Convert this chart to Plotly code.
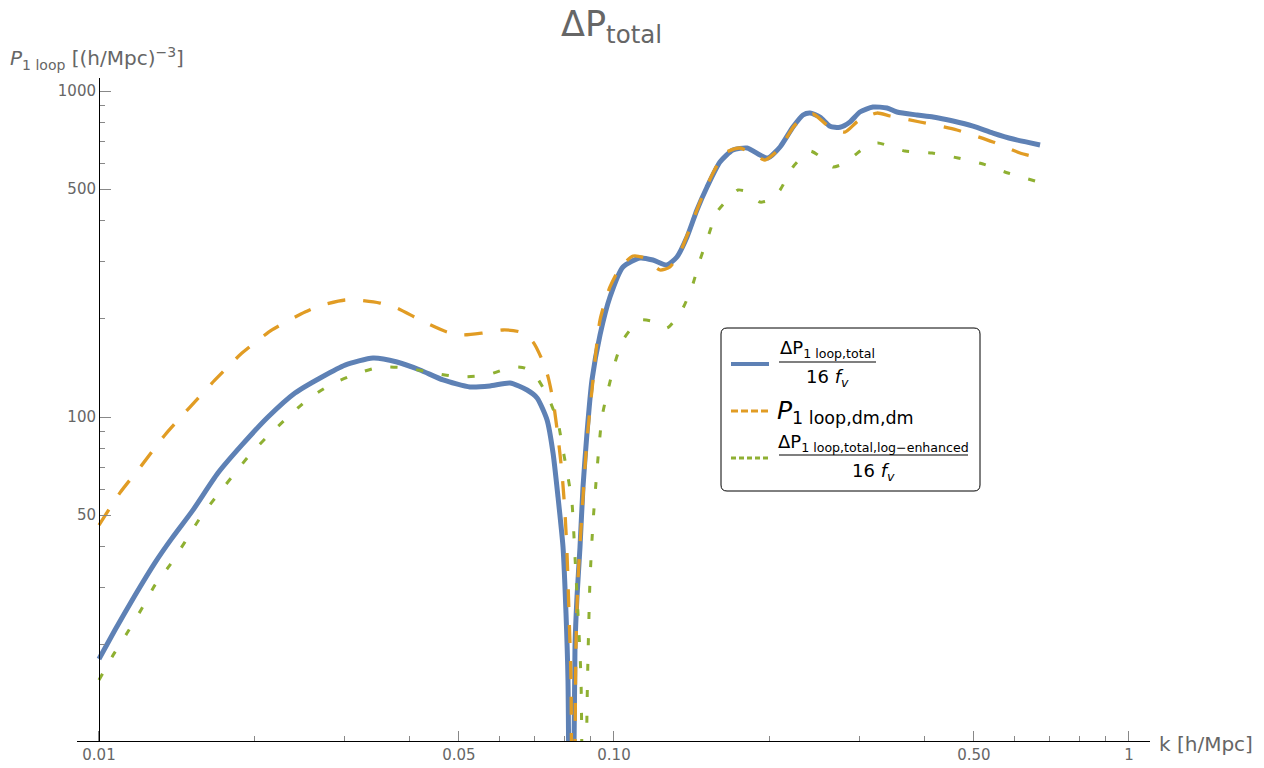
import plotly.graph_objects as go

# ---------------- data ----------------
k_blue = [0.01, 0.01074, 0.01175, 0.01284, 0.01386, 0.01522, 0.01702, 0.01895, 0.02129, 0.02402,
          0.02710, 0.03004, 0.03404, 0.03790, 0.04201, 0.04656, 0.05252, 0.05743, 0.06283, 0.06780,
          0.07090, 0.07414, 0.07614, 0.07786, 0.07962, 0.08069, 0.08141, 0.0825, 0.08400, 0.08475,
          0.08590, 0.08706, 0.08863, 0.09063, 0.09394, 0.09822, 0.1041, 0.1123, 0.1190, 0.1267,
          0.1325, 0.1386, 0.1449, 0.1516, 0.1606, 0.1702, 0.1813, 0.1921, 0.1991, 0.2101,
          0.2226, 0.2328, 0.2402, 0.2512, 0.2627, 0.2747, 0.2872, 0.3003, 0.3184, 0.3389,
          0.3544, 0.3876, 0.4164, 0.4553, 0.4979, 0.5444, 0.5955, 0.6719]
p_blue = [18.1, 22.2, 28.4, 35.7, 42.5, 51.8, 67.3, 82.1, 100, 118.5,
          132.7, 144.3, 151.7, 147.5, 139.4, 129.9, 123.6, 124.5, 127.2, 121.0,
          114.4, 97.9, 77.6, 56.8, 39.9, 25.0, 15.6, 1.0, 19.7, 28.0,
          39.9, 61.0, 89.3, 129.9, 178.5, 233.4, 288.5, 307.4, 303.1, 292.6,
          309.6, 356.6, 431.5, 507.6, 605.6, 659.2, 668.6, 636.4, 623.0, 673.3,
          775.4, 844.0, 856.0, 832.2, 780.0, 774.0, 803.4, 862.1, 893.2, 887.0,
          862.1, 844.0, 832.2, 809.1, 780.8, 743.2, 712.3, 683.0]

k_orange = [0.01, 0.01098, 0.01212, 0.01343, 0.01502, 0.01680, 0.01895, 0.02167, 0.02512, 0.02710,
            0.03004, 0.03170, 0.03512, 0.03790, 0.04201, 0.04738, 0.05091, 0.05567, 0.06089, 0.06569,
            0.06963, 0.07283, 0.07447, 0.07614, 0.07786, 0.07925, 0.08033, 0.08105, 0.08178, 0.08251,
            0.0831, 0.08437, 0.08513, 0.08667, 0.08863, 0.09063, 0.09394, 0.09822, 0.1027, 0.1089,
            0.1149, 0.1228, 0.1284, 0.1344, 0.1405, 0.1469, 0.1550, 0.1643, 0.1757, 0.1878,
            0.1964, 0.2101, 0.2246, 0.2434, 0.2592, 0.2808, 0.2977, 0.3241, 0.3435, 0.3928,
            0.4634, 0.5444, 0.6142, 0.6719]
p_orange = [46.6, 58.5, 71.3, 88.1, 107.3, 129.9, 157.1, 184.9, 209.9, 220.6,
            228.5, 228.5, 223.7, 216.0, 198.4, 182.3, 178.5, 181.0, 184.9, 182.3,
            169.9, 147.5, 132.7, 112.7, 86.9, 67.3, 50.8, 38.3, 25.0, 15.6,
            1.0, 19.7, 31.6, 50.8, 85.0, 121.0, 198.4, 250.5, 286.5, 311.8,
            307.4, 282.5, 288.5, 320.7, 379.9, 456.5, 552.5, 645.3, 668.6, 636.4,
            614.2, 668.6, 786.4, 850.1, 786.4, 748.5, 809.1, 856.0, 838.1, 803.4,
            759.1, 697.6, 645.3, 623.0]

k_green = [0.01, 0.01065, 0.01133, 0.01212, 0.01284, 0.01374, 0.01469, 0.01571, 0.01680, 0.01812,
           0.01947, 0.02119, 0.02317, 0.02534, 0.02809, 0.03113, 0.03512, 0.03963, 0.04452, 0.05023,
           0.05667, 0.06339, 0.06719, 0.07025, 0.07447, 0.07786, 0.07962, 0.08141, 0.08288, 0.08400,
           0.08513, 0.08629, 0.08745, 0.08863, 0.08903, 0.08983, 0.09104, 0.09269, 0.09478, 0.09735,
           0.1004, 0.1041, 0.1123, 0.1201, 0.1267, 0.1355, 0.1417, 0.1469, 0.1522, 0.1585,
           0.1658, 0.1741, 0.1821, 0.1921, 0.2009, 0.2101, 0.2226, 0.2402, 0.2535, 0.2662,
           0.2808, 0.2938, 0.3099, 0.3255, 0.3673, 0.4146, 0.4656, 0.5207, 0.5821, 0.6571]
p_green = [15.6, 18.6, 21.7, 25.9, 30.5, 35.2, 41.4, 49.0, 56.4, 65.5,
           75.4, 86.9, 99.3, 112.7, 125.4, 134.5, 142.3, 141.3, 136.5, 132.7,
           134.5, 142.3, 141.3, 134.5, 115.2, 95.9, 79.2, 65.5, 54.5, 37.2,
           25.0, 15.6, 1.0, 12.6, 18.4, 31.6, 47.3, 68.8, 100, 121.0,
           146.4, 172.3, 198.4, 195.6, 187.5, 212.9, 250.5, 303.1, 356.6, 425.4,
           463.0, 497.0, 490.0, 456.5, 463.0, 497.0, 584.7, 654.6, 623.0, 584.7,
           601.3, 636.4, 678.1, 692.6, 654.6, 645.3, 623.0, 597.2, 560.4, 529.6]

x_tickvals = [0.01, 0.05, 0.1, 0.5, 1]
x_ticktext = ["0.01", "0.05", "0.10", "0.50", "1"]
x_minor = [0.02, 0.03, 0.04, 0.06, 0.07, 0.08, 0.09, 0.2, 0.3, 0.4, 0.6, 0.7, 0.8, 0.9]
y_tickvals = [50, 100, 500, 1000]
y_ticktext = ["50", "100", "500", "1000"]
y_minor = [20, 30, 40, 60, 70, 80, 90, 200, 300, 400, 600, 700, 800, 900]

BLUE, ORANGE, GREEN = "#5E81B5", "#E19C24", "#8FB032"
FONT = "DejaVu Sans"

# ---------------- layout geometry ----------------
W, H = 1264, 768
L, R, T, B = 77, 1150, 78, 741


def px(x):
    return (x - L) / (R - L)


def py(y):
    return (B - y) / (B - T)


fig = go.Figure()
fig.add_trace(go.Scatter(x=k_blue, y=p_blue, mode="lines",
                         line=dict(color=BLUE, width=5, shape="spline", smoothing=0.6)))
fig.add_trace(go.Scatter(x=k_orange, y=p_orange, mode="lines",
                         line=dict(color=ORANGE, width=3.3, dash="18px,18px", shape="spline", smoothing=0.6)))
fig.add_trace(go.Scatter(x=k_green, y=p_green, mode="lines",
                         line=dict(color=GREEN, width=3, dash="7px,19px", shape="spline", smoothing=0.6)))

fig.update_layout(
    width=W, height=H,
    margin=dict(l=L, r=W - R, t=T, b=H - B, pad=0, autoexpand=False),
    plot_bgcolor="white", paper_bgcolor="white",
    showlegend=False,
    font=dict(family=FONT, color="#666666"),
)

fig.update_xaxes(
    type="log", range=[-2.0427, 0.0408], automargin=False,
    showline=True, linecolor="black", linewidth=1,
    ticks="inside", ticklen=10, tickcolor="#888888", tickwidth=1,
    tickvals=x_tickvals, ticktext=x_ticktext,
    tickfont=dict(size=15, color="#666666", family=FONT),
    showgrid=False, zeroline=False,
    minor=dict(tickvals=x_minor, ticks="inside", ticklen=5, tickcolor="#888888", showgrid=False),
)
fig.update_yaxes(
    type="log", range=[1.0061, 3.0399], automargin=False,
    anchor="free", position=px(99), side="left",
    showline=True, linecolor="black", linewidth=1,
    ticks="inside", ticklen=11, tickcolor="#888888", tickwidth=1,
    tickvals=y_tickvals, ticktext=y_ticktext,
    tickfont=dict(size=15, color="#666666", family=FONT),
    showgrid=False, zeroline=False,
    minor=dict(tickvals=y_minor, ticks="inside", ticklen=5, tickcolor="#888888", showgrid=False),
)

# ---------------- titles ----------------
ann = []
ann.append(dict(text="ΔP<sub>total</sub>", x=px(611), y=py(2), xref="paper", yref="paper",
                xanchor="center", yanchor="top", showarrow=False,
                font=dict(size=35, color="#666666", family=FONT)))
ann.append(dict(text="<i>P</i><sub>1 loop</sub> [(h/Mpc)<sup>−3</sup>]", x=px(8), y=py(58),
                xref="paper", yref="paper", xanchor="left", yanchor="middle", showarrow=False,
                font=dict(size=20, color="#666666", family=FONT)))
ann.append(dict(text="k [h/Mpc]", x=px(1157), y=py(744), xref="paper", yref="paper",
                xanchor="left", yanchor="middle", showarrow=False,
                font=dict(size=20, color="#666666", family=FONT)))

# ---------------- legend (drawn manually) ----------------
x0, x1, y0, y1 = px(721), px(980), py(491), py(328)
rx, ry = 6 / (R - L), 6 / (B - T)
box = (f"M {x0+rx},{y1} L {x1-rx},{y1} Q {x1},{y1} {x1},{y1-ry} L {x1},{y0+ry} "
       f"Q {x1},{y0} {x1-rx},{y0} L {x0+rx},{y0} Q {x0},{y0} {x0},{y0+ry} "
       f"L {x0},{y1-ry} Q {x0},{y1} {x0+rx},{y1} Z")
shapes = [
    dict(type="path", path=box, xref="paper", yref="paper",
         line=dict(color="black", width=1), fillcolor="white"),
    dict(type="line", xref="paper", yref="paper", x0=px(731), x1=px(769), y0=py(364), y1=py(364),
         line=dict(color=BLUE, width=4)),
    dict(type="line", xref="paper", yref="paper", x0=px(731), x1=px(769), y0=py(411), y1=py(411),
         line=dict(color=ORANGE, width=3, dash="7px,3px")),
    dict(type="line", xref="paper", yref="paper", x0=px(731), x1=px(769), y0=py(458), y1=py(458),
         line=dict(color=GREEN, width=3, dash="5px,3px")),
    dict(type="line", xref="paper", yref="paper", x0=px(779), x1=px(876), y0=py(362), y1=py(362),
         line=dict(color="black", width=1.2)),
    dict(type="line", xref="paper", yref="paper", x0=px(779), x1=px(968), y0=py(455), y1=py(455),
         line=dict(color="black", width=1.2)),
]
leg_font = dict(size=18, color="black", family=FONT)
ann += [
    dict(text="ΔP<sub>1 loop,total</sub>", x=px(827.5), y=py(349), xref="paper", yref="paper",
         xanchor="center", yanchor="middle", showarrow=False, font=leg_font),
    dict(text="16 <i>f</i><sub><i>v</i></sub>", x=px(827.5), y=py(378), xref="paper", yref="paper",
         xanchor="center", yanchor="middle", showarrow=False, font=leg_font),
    dict(text="<i>P</i><sub>1 loop,dm,dm</sub>", x=px(775), y=py(412), xref="paper", yref="paper",
         xanchor="left", yanchor="middle", showarrow=False,
         font=dict(size=25, color="black", family=FONT)),
    dict(text="ΔP<sub>1 loop,total,log−enhanced</sub>", x=px(873.5), y=py(443), xref="paper", yref="paper",
         xanchor="center", yanchor="middle", showarrow=False, font=leg_font),
    dict(text="16 <i>f</i><sub><i>v</i></sub>", x=px(873.5), y=py(472), xref="paper", yref="paper",
         xanchor="center", yanchor="middle", showarrow=False, font=leg_font),
]
fig.update_layout(shapes=shapes, annotations=ann)

fig.write_html("out.html", config={"displayModeBar": False},
               post_script="document.body.style.margin='0px';document.body.style.overflow='hidden';")
